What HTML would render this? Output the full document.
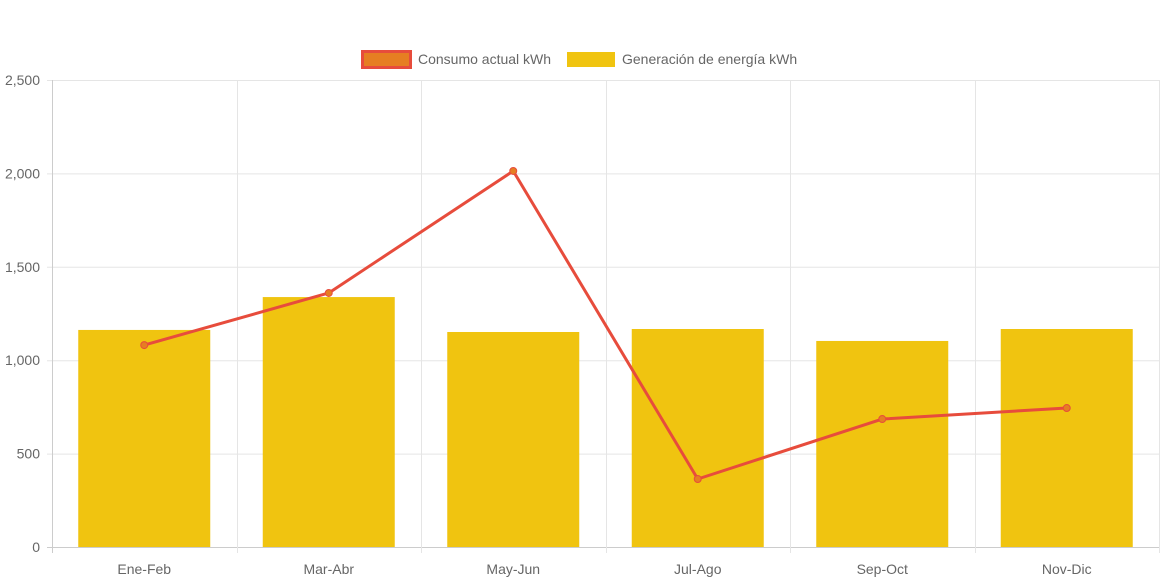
<!DOCTYPE html>
<html><head><meta charset="utf-8"><style>
html,body{margin:0;padding:0;background:#fff;width:1165px;height:582px;overflow:hidden}
svg text{font-family:"Liberation Sans",Arial,sans-serif;fill:#666;font-size:14px}
</style></head><body>
<svg id="chart" width="1165" height="582"></svg>
<script>
const categories=["Ene-Feb","Mar-Abr","May-Jun","Jul-Ago","Sep-Oct","Nov-Dic"];
const generacion=[1162,1338,1151,1167,1103,1167];
const consumo=[1081,1360,2013,364,685,744];
const yTicks=[0,500,1000,1500,2000,2500];
const yTickLabels=["0","500","1,000","1,500","2,000","2,500"];
const svg=document.getElementById('chart');
const NS='http://www.w3.org/2000/svg';
const L=52,R=1159,T=80,B=547,yMax=2500;
const bw=(R-L)/categories.length;
const y=v=>B-(v/yMax)*(B-T);
const xc=i=>L+bw*(i+0.5);
function mk(tag,attrs,parent){const e=document.createElementNS(NS,tag);for(const k in attrs)e.setAttribute(k,attrs[k]);(parent||svg).appendChild(e);return e;}
// grid
yTicks.forEach((t,i)=>{
  const g=mk('line',{x1:L-5,x2:R,y1:y(t)+0.5,y2:y(t)+0.5,stroke:i===0?'#ccc':'#e5e5e5','stroke-width':1});
  
  
  const tx=mk('text',{x:L-12,y:y(t)+5,'text-anchor':'end'});tx.textContent=yTickLabels[i];
  
  
});
for(let i=0;i<=categories.length;i++){
  const x=Math.round(L+bw*i)+0.5;
  const g=mk('line',{x1:x,x2:x,y1:T,y2:B+6,stroke:i===0?'#ccc':'#e5e5e5','stroke-width':1});
  
  
}
categories.forEach((c,i)=>{
  const b=mk('rect',{x:xc(i)-66,y:y(generacion[i]),width:132,height:B-y(generacion[i]),fill:'#f0c410'});
  
  
  const tx=mk('text',{x:xc(i),y:B+27,'text-anchor':'middle'});tx.textContent=c;
  
  
});
const pts=consumo.map((v,i)=>xc(i)+','+y(v)).join(' ');
const pl=mk('polyline',{points:pts,fill:'none',stroke:'#e74c3c','stroke-width':3,'stroke-linejoin':'round'});


consumo.forEach((v,i)=>{
  const p=mk('circle',{cx:xc(i),cy:y(v),r:3.5,fill:'#e67e22',stroke:'#e74c3c','stroke-width':1});
  
  
});
// legend
const lg=mk('g',{});


const s1=mk('rect',{x:362.5,y:51.5,width:48,height:16,fill:'#e67e22',stroke:'#e74c3c','stroke-width':3},lg);


const t1=mk('text',{x:418,y:64},lg);t1.textContent='Consumo actual kWh';


const s2=mk('rect',{x:567,y:52,width:48,height:15,fill:'#f0c410'},lg);


const t2=mk('text',{x:622,y:64},lg);t2.textContent='Generación de energía kWh';


</script>
</body></html>
